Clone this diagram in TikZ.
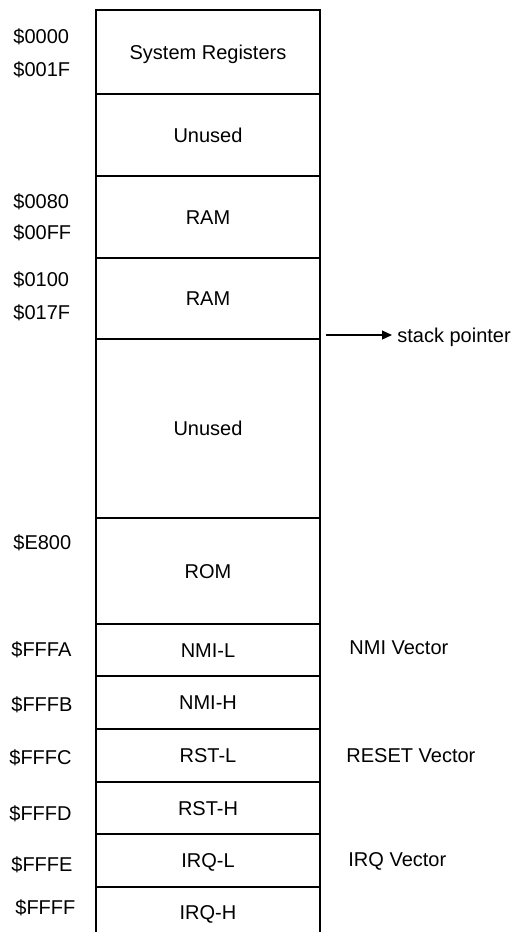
\documentclass[tikz,border=0pt]{standalone}
\usepackage{fontspec}
\setmainfont{Liberation Sans}
\usepackage{tikz}
\usetikzlibrary{positioning,arrows.meta}
\tikzset{
    cell/.style={rectangle, draw=black, line width=0.65pt, minimum width=112pt, inner sep=0pt, outer sep=0pt, text height=7.2pt, text depth=0pt},
    addr/.style={anchor=west, inner sep=0pt, text height=7.2pt, text depth=0pt},
    vec/.style={inner sep=0pt, text height=7.2pt, text depth=0pt},
    line/.style={-{Triangle[length=5pt,width=4.5pt]}, line width=0.6pt},
}
\begin{document}
\begin{tikzpicture}
        [x=0.5pt, y=-0.5pt, font=\fontsize{10pt}{12pt}\selectfont, node distance=0pt]

        \useasboundingbox (0,0) rectangle (517,932);
        \clip (0,0) rectangle (517,932);

        % memory cells
        \node[cell, minimum height=42pt, anchor=north] (sysreg) at (208,10) {System Registers};
        \node[cell, minimum height=41pt, below=of sysreg] (unused) {Unused};
        \node[cell, minimum height=41pt, below=of unused] (ramzp) {RAM};
        \node[cell, minimum height=40.5pt, below=of ramzp] (ramstack) {RAM};
        \node[cell, minimum height=89.5pt, below=of ramstack] (free) {Unused};
        \node[cell, minimum height=53pt, below=of free] (rom) {ROM};
        \node[cell, minimum height=26pt, below=of rom] (nmil) {NMI-L};
        \node[cell, minimum height=26.5pt, below=of nmil] (nmih) {NMI-H};
        \node[cell, minimum height=26.5pt, below=of nmih] (rstl) {RST-L};
        \node[cell, minimum height=26pt, below=of rstl] (rsth) {RST-H};
        \node[cell, minimum height=26.5pt, below=of rsth] (irql) {IRQ-L};
        \node[cell, minimum height=25pt, below=of irql] (irqh) {IRQ-H};

        % addresses
        \node[addr] (a0000) at (13,36) {\$0000};
        \node[addr] (a001f) at (13,69) {\$001F};
        \node[addr] (a0080) at (13,201) {\$0080};
        \node[addr] (a00ff) at (13,232) {\$00FF};
        \node[addr] (a0100) at (13,279) {\$0100};
        \node[addr] (a017f) at (13,312) {\$017F};
        \node[addr] (ae800) at (13,542) {\$E800};
        \node[addr] (afffa) at (11,649) {\$FFFA};
        \node[addr] (afffb) at (11,704) {\$FFFB};
        \node[addr] (afffc) at (9,757) {\$FFFC};
        \node[addr] (afffd) at (9,813) {\$FFFD};
        \node[addr] (afffe) at (11,864) {\$FFFE};
        \node[addr] (affff) at (15,907) {\$FFFF};

        % vectors
        \node[vec, right=14.5pt of nmil.east, anchor=west, yshift=1.5pt] (nmivec) {NMI Vector};
        \node[vec, right=13pt of rstl.east, anchor=west] (rstvec) {RESET Vector};
        \node[vec, right=14pt of irql.east, anchor=west, yshift=0.75pt] (irqvec) {IRQ Vector};

        % stack pointer
        \coordinate (sp) at ([xshift=3pt, yshift=2pt]ramstack.south east);
        \node[vec, right=33pt of sp, inner sep=2.5pt, text depth=0pt] (stack) {stack pointer};
        \draw[line] (sp) -- (stack);

    \end{tikzpicture}
\end{document}
